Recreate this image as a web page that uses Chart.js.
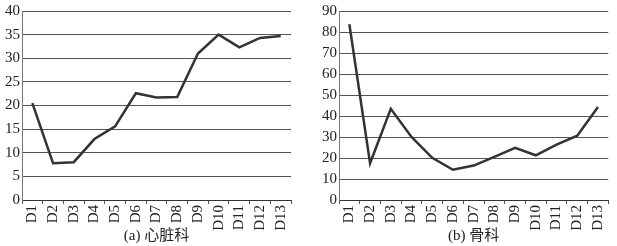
<!DOCTYPE html>
<html><head><meta charset="utf-8">
<script src="https://cdn.jsdelivr.net/npm/chart.js@4/dist/chart.umd.min.js"></script>
<style>
html,body{margin:0;padding:0;background:#fff;width:617px;height:246px;overflow:hidden}
.c{position:absolute;top:0}
</style></head><body>
<div class="c" style="left:0;width:300px;height:246px"><canvas id="a"></canvas></div>
<div class="c" style="left:310px;width:307px;height:246px"><canvas id="b"></canvas></div>
<script>
const categories = ['D1','D2','D3','D4','D5','D6','D7','D8','D9','D10','D11','D12','D13'];
const cardiology = [20.5, 7.8, 8.0, 12.9, 15.6, 22.6, 21.7, 21.8, 31.0, 35.0, 32.3, 34.3, 34.7];
const orthopedics = [83.7, 17.5, 43.4, 30.0, 20.1, 14.4, 16.4, 20.5, 24.8, 21.3, 26.4, 30.6, 44.3];
const titleA = '(a) 心脏科';
const titleB = '(b) 骨科';
const maxA = 40, stepA = 5;
const maxB = 90, stepB = 10;

const serif = "'Liberation Serif', 'Noto Sans CJK SC', serif";

function make(id, data, title, max, step, yWidth, padRight) {
  new Chart(document.getElementById(id), {
    type: 'line',
    data: { labels: categories, datasets: [{ data: data, borderColor: '#333', borderWidth: 2.5, pointRadius: 0, tension: 0, fill: false }] },
    options: {
      responsive: true, maintainAspectRatio: false, animation: false,
      layout: { padding: { top: 6, right: padRight, left: 0, bottom: 0 } },
      plugins: { legend: { display: false }, tooltip: { enabled: false } },
      scales: {
        x: {
          offset: true,
          grid: { offset: true, drawOnChartArea: false, drawTicks: true, tickLength: 4, color: '#555' },
          border: { display: true, color: '#333', width: 1 },
          ticks: { minRotation: 90, maxRotation: 90, autoSkip: false, padding: 1, color: '#222', font: { family: serif, size: 15 } },
          title: { display: true, text: title, color: '#222', font: { family: serif, size: 15 }, padding: { top: 0, bottom: 1 } },
          afterFit: s => { s.height = 46; }
        },
        y: {
          min: 0, max: max,
          ticks: { stepSize: step, padding: 2, color: '#222', font: { family: serif, size: 15 } },
          grid: { color: '#555', lineWidth: 1, drawTicks: false },
          border: { display: true, color: '#777', width: 1 },
          afterFit: s => { s.width = yWidth; }
        }
      }
    }
  });
}
make('a', cardiology, titleA, maxA, stepA, 22, 7);
make('b', orthopedics, titleB, maxB, stepB, 29, 1);
</script>
</body></html>
